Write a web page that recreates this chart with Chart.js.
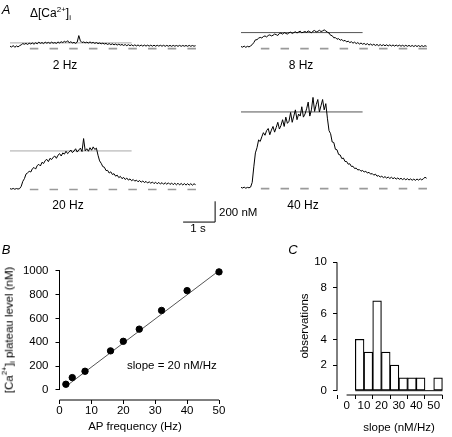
<!DOCTYPE html>
<html>
<head>
<meta charset="utf-8">
<script src="https://cdn.jsdelivr.net/npm/chart.js@4.4.0/dist/chart.umd.min.js"></script>
<style>
  html, body { margin: 0; padding: 0; background: #fff; }
  body { width: 452px; height: 437px; position: relative; overflow: hidden;
         font-family: "Liberation Sans", Arial, Helvetica, sans-serif; color: #000; }
  canvas { position: absolute; }
  .lbl { position: absolute; line-height: 1; white-space: nowrap; font-size: 12px; color: #000;
         transform: translate(-50%, -50%); }
  .left { transform: translate(0, -50%); }
  .rot { writing-mode: vertical-rl; transform: translate(-50%, -50%) rotate(180deg); }
  .panel { font-size: 13px; font-style: italic; }
  .ax { font-size: 11.5px; }
  sup, sub { font-size: 8px; line-height: 0; }
</style>
</head>
<body>

<canvas id="tr2" width="208" height="52" style="left:10px; top:7px"></canvas>
<canvas id="tr8" width="200" height="52" style="left:241px; top:7px"></canvas>
<canvas id="tr20" width="208" height="135" style="left:10px; top:96px"></canvas>
<canvas id="tr40" width="200" height="114" style="left:241px; top:85px"></canvas>
<canvas id="chartB" width="226" height="197" style="left:0px; top:240px"></canvas>
<canvas id="chartC" width="172" height="197" style="left:280px; top:240px"></canvas>

<div class="lbl panel" style="left:6px; top:9px">A</div>
<div class="lbl left" style="left:30px; top:13px">&Delta;[Ca<sup>2+</sup>]<sub>i</sub></div>
<div class="lbl" style="left:65px; top:65px">2 Hz</div>
<div class="lbl" style="left:301px; top:65px">8 Hz</div>
<div class="lbl" style="left:68px; top:205px">20 Hz</div>
<div class="lbl" style="left:303px; top:205px">40 Hz</div>
<div class="lbl left ax" style="left:219px; top:213px">200 nM</div>
<div class="lbl ax" style="left:198px; top:229px">1 s</div>

<div class="lbl panel" style="left:6px; top:249px">B</div>
<div class="lbl rot ax" style="left:10px; top:330px">[Ca<sup>2+</sup>]<sub>i</sub> plateau level (nM)</div>
<div class="lbl ax" style="left:135px; top:427px">AP frequency (Hz)</div>
<div class="lbl left ax" style="left:127px; top:366px">slope = 20 nM/Hz</div>

<div class="lbl panel" style="left:293px; top:249px">C</div>
<div class="lbl rot ax" style="left:305px; top:326px">observations</div>
<div class="lbl ax" style="left:399px; top:428px">slope (nM/Hz)</div>

<script>
// Panel A: [Ca2+]i transients, time in s (0.05 s samples) and change in nM
var TIME = [0.00, 0.05, 0.10, 0.15, 0.20, 0.25, 0.30, 0.35, 0.40, 0.45,
            0.50, 0.55, 0.60, 0.65, 0.70, 0.75, 0.80, 0.85, 0.90, 0.95,
            1.00, 1.05, 1.10, 1.15, 1.20, 1.25, 1.30, 1.35, 1.40, 1.45,
            1.50, 1.55, 1.60, 1.65, 1.70, 1.75, 1.80, 1.85, 1.90, 1.95,
            2.00, 2.05, 2.10, 2.15, 2.20, 2.25, 2.30, 2.35, 2.40, 2.45,
            2.50, 2.55, 2.60, 2.65, 2.70, 2.75, 2.80, 2.85, 2.90, 2.95,
            3.00, 3.05, 3.10, 3.15, 3.20, 3.25, 3.30, 3.35, 3.40, 3.45,
            3.50, 3.55, 3.60, 3.65, 3.70, 3.75, 3.80, 3.85, 3.90, 3.95,
            4.00, 4.05, 4.10, 4.15, 4.20, 4.25, 4.30, 4.35, 4.40, 4.45,
            4.50, 4.55, 4.60, 4.65, 4.70, 4.75, 4.80, 4.85, 4.90, 4.95,
            5.00, 5.05, 5.10, 5.15, 5.20, 5.25, 5.30, 5.35, 5.40, 5.45,
            5.50, 5.55, 5.60, 5.65, 5.70, 5.75, 5.80];

var CA_2HZ = [24, 14, 30, 12, 26, 16, 28, 36, 48, 42,
              50, 40, 52, 44, 54, 42, 56, 46, 62, 50,
              58, 48, 62, 52, 60, 50, 62, 52, 58, 50,
              64, 54, 66, 58, 70, 60, 76, 56, 66, 54,
              60, 50, 62, 125, 74, 58, 64, 56, 62, 54,
              64, 54, 60, 50, 58, 48, 54, 46, 52, 44,
              50, 40, 48, 38, 46, 36, 44, 34, 42, 33,
              40, 30, 39, 28, 38, 28, 37, 26, 36, 26,
              35, 25, 34, 24, 34, 24, 33, 24, 33, 23,
              33, 23, 32, 24, 32, 23, 32, 22, 31, 23,
              31, 22, 31, 23, 30, 22, 31, 22, 30, 23,
              30, 22, 31, 22, 30, 23, 28];

var CA_8HZ = [20, 14, 24, 12, 22, 16, 26, 38, 58, 84,
              86, 100, 108, 102, 116, 122, 112, 126, 132, 122,
              128, 140, 134, 126, 146, 150, 138, 154, 146, 140,
              152, 158, 146, 154, 162, 150, 160, 168, 152, 158,
              164, 156, 170, 162, 152, 168, 174, 160, 166, 176,
              164, 170, 180, 170, 158, 150, 128, 124, 104, 106,
              90, 96, 80, 88, 72, 80, 64, 72, 58, 66,
              52, 62, 48, 58, 44, 54, 42, 50, 38, 48,
              34, 44, 32, 42, 30, 40, 28, 39, 28, 38,
              27, 37, 26, 36, 25, 35, 24, 34, 24, 33,
              23, 32, 22, 32, 22, 31, 21, 30, 20, 30,
              20, 29, 19, 29, 20, 28, 22];

var CA_20HZ = [8, 3, 10, 2, 9, 4, 8, 30, 78, 104,
               148, 160, 175, 168, 200, 212, 196, 230, 242, 226,
               262, 250, 278, 290, 268, 300, 288, 310, 322, 300,
               330, 345, 322, 352, 340, 368, 345, 360, 380, 355,
               370, 392, 360, 380, 398, 365, 490, 372, 392, 368,
               402, 378, 410, 385, 398, 330, 275, 252, 220, 214,
               182, 184, 158, 170, 144, 152, 128, 138, 114, 126,
               104, 116, 96, 110, 90, 102, 84, 96, 80, 90,
               74, 86, 70, 82, 66, 78, 62, 74, 60, 72,
               56, 70, 54, 68, 52, 66, 50, 65, 50, 64,
               48, 62, 46, 60, 45, 60, 44, 58, 43, 57,
               42, 56, 42, 56, 41, 55, 46];

var CA_40HZ = [12, 6, 14, 4, 12, 8, 15, 60, 210, 345,
               395, 470, 455, 500, 540, 515, 560, 580, 520, 565,
               600, 545, 590, 640, 575, 610, 665, 600, 690, 630,
               650, 735, 640, 700, 760, 665, 720, 700, 790, 690,
               720, 770, 835, 700, 760, 880, 745, 810, 860, 740,
               800, 860, 760, 820, 680, 560, 530, 450, 445, 380,
               375, 330, 325, 290, 295, 262, 262, 236, 240, 214,
               216, 194, 198, 180, 184, 168, 176, 160, 168, 150,
               158, 140, 146, 130, 140, 120, 126, 112, 120, 106,
               116, 102, 112, 98, 110, 96, 106, 92, 103, 90,
               100, 87, 98, 85, 96, 83, 94, 81, 92, 80,
               93, 82, 95, 84, 96, 110, 100];

// plateau levels (nM) drawn as horizontal lines
var PLATEAU_2HZ = 55;
var PLATEAU_8HZ = 154;
var PLATEAU_20HZ = 371;
var PLATEAU_40HZ = 740;
var PLATEAU_FROM = 0;
var PLATEAU_TO = 3.8;

// dashed zero line (s)
var BASELINE_FROM = 0.62;
var BASELINE_TO = 5.84;

// scale bar: 1 s, 200 nM
var SCALE_SEC = 1;
var SCALE_NM = 200;
var SCALE_AT_T = 5.41;
var SCALE_AT_NM = -314;

// Panel B: plateau level against AP frequency
var FREQ_HZ = [2, 4, 8, 16, 20, 25, 32, 40, 50];
var PLATEAU_NM = [48, 104, 157, 328, 408, 510, 667, 833, 990];
var FIT_HZ = [2, 50];
var FIT_NM = [30, 1000];
var B_X_TICKS = [0, 10, 20, 30, 40, 50];
var B_Y_TICKS = [0, 200, 400, 600, 800, 1000];

// Panel C: histogram of slopes
var SLOPE_BIN_START = [5, 10, 15, 20, 25, 30, 35, 40, 45, 50];
var SLOPE_BIN_WIDTH = 5;
var SLOPE_COUNTS = [4, 3, 7, 3, 2, 1, 1, 1, 0, 1];
var C_X_TICKS = [0, 10, 20, 30, 40, 50];
var C_Y_TICKS = [0, 2, 4, 6, 8, 10];

var FONT = '"Liberation Sans", Arial, Helvetica, sans-serif';

function toPoints(xs, ys) {
    return xs.map(function (x, i) { return { x: x, y: ys[i] }; });
}

// draws the 1 s / 200 nM bar with the chart's own scales
var scaleBar = {
    id: 'scaleBar',
    afterDatasetsDraw: function (chart) {
        var xs = chart.scales.x, ys = chart.scales.y, ctx = chart.ctx;
        var x0 = xs.getPixelForValue(SCALE_AT_T);
        var x1 = xs.getPixelForValue(SCALE_AT_T + SCALE_SEC);
        var y0 = ys.getPixelForValue(SCALE_AT_NM);
        var y1 = ys.getPixelForValue(SCALE_AT_NM + SCALE_NM);
        ctx.save();
        ctx.strokeStyle = '#000';
        ctx.lineWidth = 1;
        ctx.beginPath();
        ctx.moveTo(x0, y0);
        ctx.lineTo(x1, y0);
        ctx.lineTo(x1, y1);
        ctx.stroke();
        ctx.restore();
    }
};

function traceChart(id, values, plateau, plateauColor, yMin, yMax, xMax, extra) {
    return new Chart(document.getElementById(id), {
        type: 'scatter',
        data: {
            datasets: [
                { data: toPoints(TIME, values), borderColor: '#000', borderWidth: 1,
                  showLine: true, pointRadius: 0 },
                { data: [{ x: PLATEAU_FROM, y: plateau }, { x: PLATEAU_TO, y: plateau }],
                  borderColor: plateauColor, borderWidth: 1, showLine: true, pointRadius: 0 },
                { data: [{ x: BASELINE_FROM, y: 0 }, { x: BASELINE_TO, y: 0 }],
                  borderColor: '#9a9a9a', borderWidth: 1.6, borderDash: [8.5, 11.2],
                  showLine: true, pointRadius: 0 }
            ]
        },
        options: {
            responsive: false,
            animation: false,
            events: [],
            layout: { padding: 0 },
            plugins: { legend: { display: false }, tooltip: { enabled: false } },
            scales: {
                x: { type: 'linear', display: false, min: 0, max: xMax },
                y: { type: 'linear', display: false, min: yMin, max: yMax }
            }
        },
        plugins: extra || []
    });
}

traceChart('tr2', CA_2HZ, PLATEAU_2HZ, '#a8a8a8', -100, 400, 6.5);
traceChart('tr8', CA_8HZ, PLATEAU_8HZ, '#555', -100, 400, 6.25);
traceChart('tr20', CA_20HZ, PLATEAU_20HZ, '#a8a8a8', -400, 900, 6.5, [scaleBar]);
traceChart('tr40', CA_40HZ, PLATEAU_40HZ, '#555', -100, 1000, 6.25);

// axis lines that only span the data range, like the original figure
var plainAxes = {
    id: 'plainAxes',
    beforeDatasetsDraw: function (chart, args, o) {
        var ctx = chart.ctx, a = chart.chartArea, xs = chart.scales.x, ys = chart.scales.y;
        ctx.save();
        ctx.strokeStyle = '#000';
        ctx.lineWidth = 1;
        ctx.beginPath();
        ctx.moveTo(a.left, ys.getPixelForValue(o.yFrom));
        ctx.lineTo(a.left, ys.getPixelForValue(o.yTo));
        ctx.moveTo(xs.getPixelForValue(o.xFrom), a.bottom);
        ctx.lineTo(xs.getPixelForValue(o.xTo), a.bottom);
        if (o.baseTo !== undefined) {
            ctx.moveTo(xs.getPixelForValue(o.baseFrom), ys.getPixelForValue(0));
            ctx.lineTo(xs.getPixelForValue(o.baseTo), ys.getPixelForValue(0));
        }
        ctx.stroke();
        ctx.restore();
    }
};

function axisOpts(min, max, tickList, size, horizontal, pad) {
    return {
        type: 'linear',
        min: min,
        max: max,
        border: { display: false },
        grid: { drawOnChartArea: false, drawTicks: true, tickLength: 4, color: '#000', lineWidth: 1 },
        ticks: {
            autoSkip: false, maxRotation: 0, padding: pad, color: '#000',
            font: { family: FONT, size: 11.5 },
            callback: function (v) { return String(v); }
        },
        afterBuildTicks: function (axis) {
            axis.ticks = tickList.map(function (v) { return { value: v }; });
        },
        afterFit: function (axis) {
            if (horizontal) axis.height = size; else axis.width = size;
        }
    };
}

new Chart(document.getElementById('chartB'), {
    type: 'scatter',
    data: {
        datasets: [
            { data: toPoints(FREQ_HZ, PLATEAU_NM), backgroundColor: '#000', borderColor: '#000',
              pointRadius: 3.2, clip: false },
            { data: toPoints(FIT_HZ, FIT_NM), borderColor: '#555', borderWidth: 1,
              showLine: true, pointRadius: 0, clip: false }
        ]
    },
    options: {
        responsive: false,
        animation: false,
        events: [],
        layout: { padding: { left: 0, right: 7, top: 30.7, bottom: 0 } },
        plugins: {
            legend: { display: false }, tooltip: { enabled: false },
            plainAxes: { xFrom: 0, xTo: 50, yFrom: 0, yTo: 1000 }
        },
        scales: {
            x: axisOpts(0, 50, B_X_TICKS, 37, true, 0),
            y: axisOpts(-84, 1000, B_Y_TICKS, 59.5, false, 7)
        }
    },
    plugins: [plainAxes]
});

new Chart(document.getElementById('chartC'), {
    type: 'bar',
    data: {
        datasets: [{
            data: SLOPE_BIN_START.map(function (s, i) {
                return { x: s + SLOPE_BIN_WIDTH / 2, y: SLOPE_COUNTS[i] };
            }),
            backgroundColor: '#fff',
            borderColor: '#000',
            borderWidth: 1.2,
            borderSkipped: false,
            categoryPercentage: 1,
            barPercentage: 1
        }]
    },
    options: {
        responsive: false,
        animation: false,
        events: [],
        layout: { padding: { left: 0, right: 0, top: 22.3, bottom: 0 } },
        plugins: {
            legend: { display: false }, tooltip: { enabled: false },
            plainAxes: { xFrom: 0, xTo: 55, yFrom: 0, yTo: 10,
                         baseFrom: SLOPE_BIN_START[0],
                         baseTo: SLOPE_BIN_START[SLOPE_BIN_START.length - 1] + SLOPE_BIN_WIDTH }
        },
        scales: {
            x: axisOpts(0, 55, C_X_TICKS, 42, true, 0),
            y: axisOpts(-0.335, 10, C_Y_TICKS, 57, false, 6)
        }
    },
    plugins: [plainAxes]
});
</script>
</body>
</html>
